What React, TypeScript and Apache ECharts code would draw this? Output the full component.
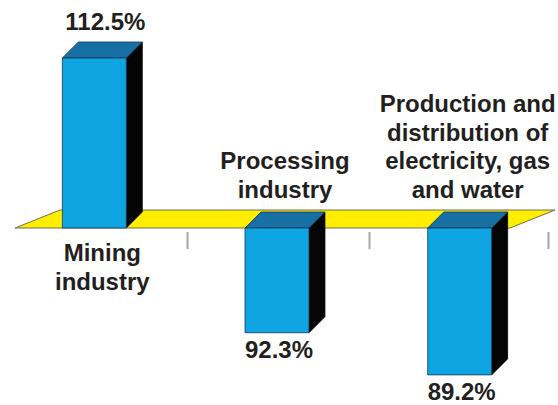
import React, { useEffect, useRef } from "react";
import * as echarts from "echarts";

const categories = ["Mining industry", "Processing industry", "Production and distribution of electricity, gas and water"];
const categoryLabels = ["Mining\nindustry", "Processing\nindustry", "Production and\ndistribution of\nelectricity, gas\nand water"];
const values = [112.5, 92.3, 89.2];
const valueLabels = ["112.5%", "92.3%", "89.2%"];
const baseline = 100;

const FONT = 'bold 24px "Liberation Sans", Arial, Helvetica, sans-serif';
const TEXT_COLOR = "#231f20";

export default function App() {
  const ref = useRef<HTMLDivElement>(null);

  useEffect(() => {
    if (!ref.current) return;
    const chart = echarts.init(ref.current, null, { renderer: "svg" });

    const option: any = {
      animation: false,
      backgroundColor: "#ffffff",
      grid: { left: 5, right: 5, top: 37.6, bottom: 13.8 },
      xAxis: {
        type: "category",
        data: categories,
        show: false,
      },
      yAxis: {
        type: "value",
        min: 88,
        max: 114,
        show: false,
      },
      series: [
        {
          type: "custom",
          name: "platform",
          data: [[0, baseline]],
          silent: true,
          renderItem: (params: any, api: any) => {
            const bw = api.size([1, 0])[0];
            const p0 = api.coord([0, baseline]);
            const p2 = api.coord([categories.length - 1, baseline]);
            const y = p0[1];
            const left = p0[0] - bw / 2 + 10;
            const right = p2[0] + bw / 2 - 43;
            const dx = 45;
            const dy = 18;
            const children: any[] = [
              {
                type: "polygon",
                shape: {
                  points: [
                    [left, y],
                    [left + dx, y - dy],
                    [right + dx, y - dy],
                    [right, y],
                  ],
                },
                style: { fill: "#FFEE00", stroke: "#6e6e58", lineWidth: 1 },
              },
            ];
            for (let i = 0; i < categories.length; i++) {
              const c = api.coord([i, baseline]);
              const tx = Math.round(c[0] + bw / 2 - (i === categories.length - 1 ? 5 : 1)) + 0.5;
              children.push({
                type: "line",
                shape: { x1: tx, y1: y + 4, x2: tx, y2: y + 21 },
                style: { stroke: "#a8a8a8", lineWidth: 2 },
              });
            }
            return { type: "group", children };
          },
        },
        {
          type: "custom",
          name: "bars",
          data: values.map((v, i) => [i, v]),
          encode: { x: 0, y: 1 },
          renderItem: (params: any, api: any) => {
            const i = api.value(0);
            const v = api.value(1);
            const bw = api.size([1, 0])[0];
            const tp = api.coord([i, v]);
            const bp = api.coord([i, baseline]);
            const fw = bw * 0.35;
            const xl = tp[0] - bw * 0.186;
            const xr = xl + fw;
            const yt = Math.min(tp[1], bp[1]);
            const yb = Math.max(tp[1], bp[1]);
            const d = 16;
            const up = v >= baseline;
            const cx = xl + fw / 2;
            return {
              type: "group",
              children: [
                {
                  type: "polygon",
                  shape: {
                    points: [
                      [xr, yt],
                      [xr + d, yt - d],
                      [xr + d, yb - d],
                      [xr, yb],
                    ],
                  },
                  style: { fill: "#050505", stroke: "#000", lineWidth: 0.8 },
                },
                {
                  type: "polygon",
                  shape: {
                    points: [
                      [xl, yt],
                      [xl + d, yt - d],
                      [xr + d, yt - d],
                      [xr, yt],
                    ],
                  },
                  style: { fill: "#1670A6", stroke: "#15364f", lineWidth: 0.8 },
                },
                {
                  type: "rect",
                  shape: { x: xl, y: yt, width: fw, height: yb - yt },
                  style: { fill: "#0FA5E2", stroke: "#15364f", lineWidth: 0.8 },
                },
                {
                  type: "text",
                  style: {
                    text: valueLabels[i],
                    x: up ? cx + 11 : cx + 2,
                    y: up ? yt - 37 : yb + 17,
                    align: "center",
                    verticalAlign: "middle",
                    font: FONT,
                    fill: TEXT_COLOR,
                  },
                },
                {
                  type: "text",
                  style: {
                    text: categoryLabels[i],
                    x: cx + 8,
                    y: up ? bp[1] + 10 : bp[1] - 24,
                    align: "center",
                    verticalAlign: up ? "top" : "bottom",
                    font: FONT,
                    lineHeight: 28.7,
                    fill: TEXT_COLOR,
                  },
                },
              ],
            };
          },
        },
      ],
    };

    chart.setOption(option);
    return () => {
      chart.dispose();
    };
  }, []);

  return (
    <div
      ref={ref}
      style={{ position: "absolute", left: 0, top: 0, width: 558, height: 405 }}
    />
  );
}
